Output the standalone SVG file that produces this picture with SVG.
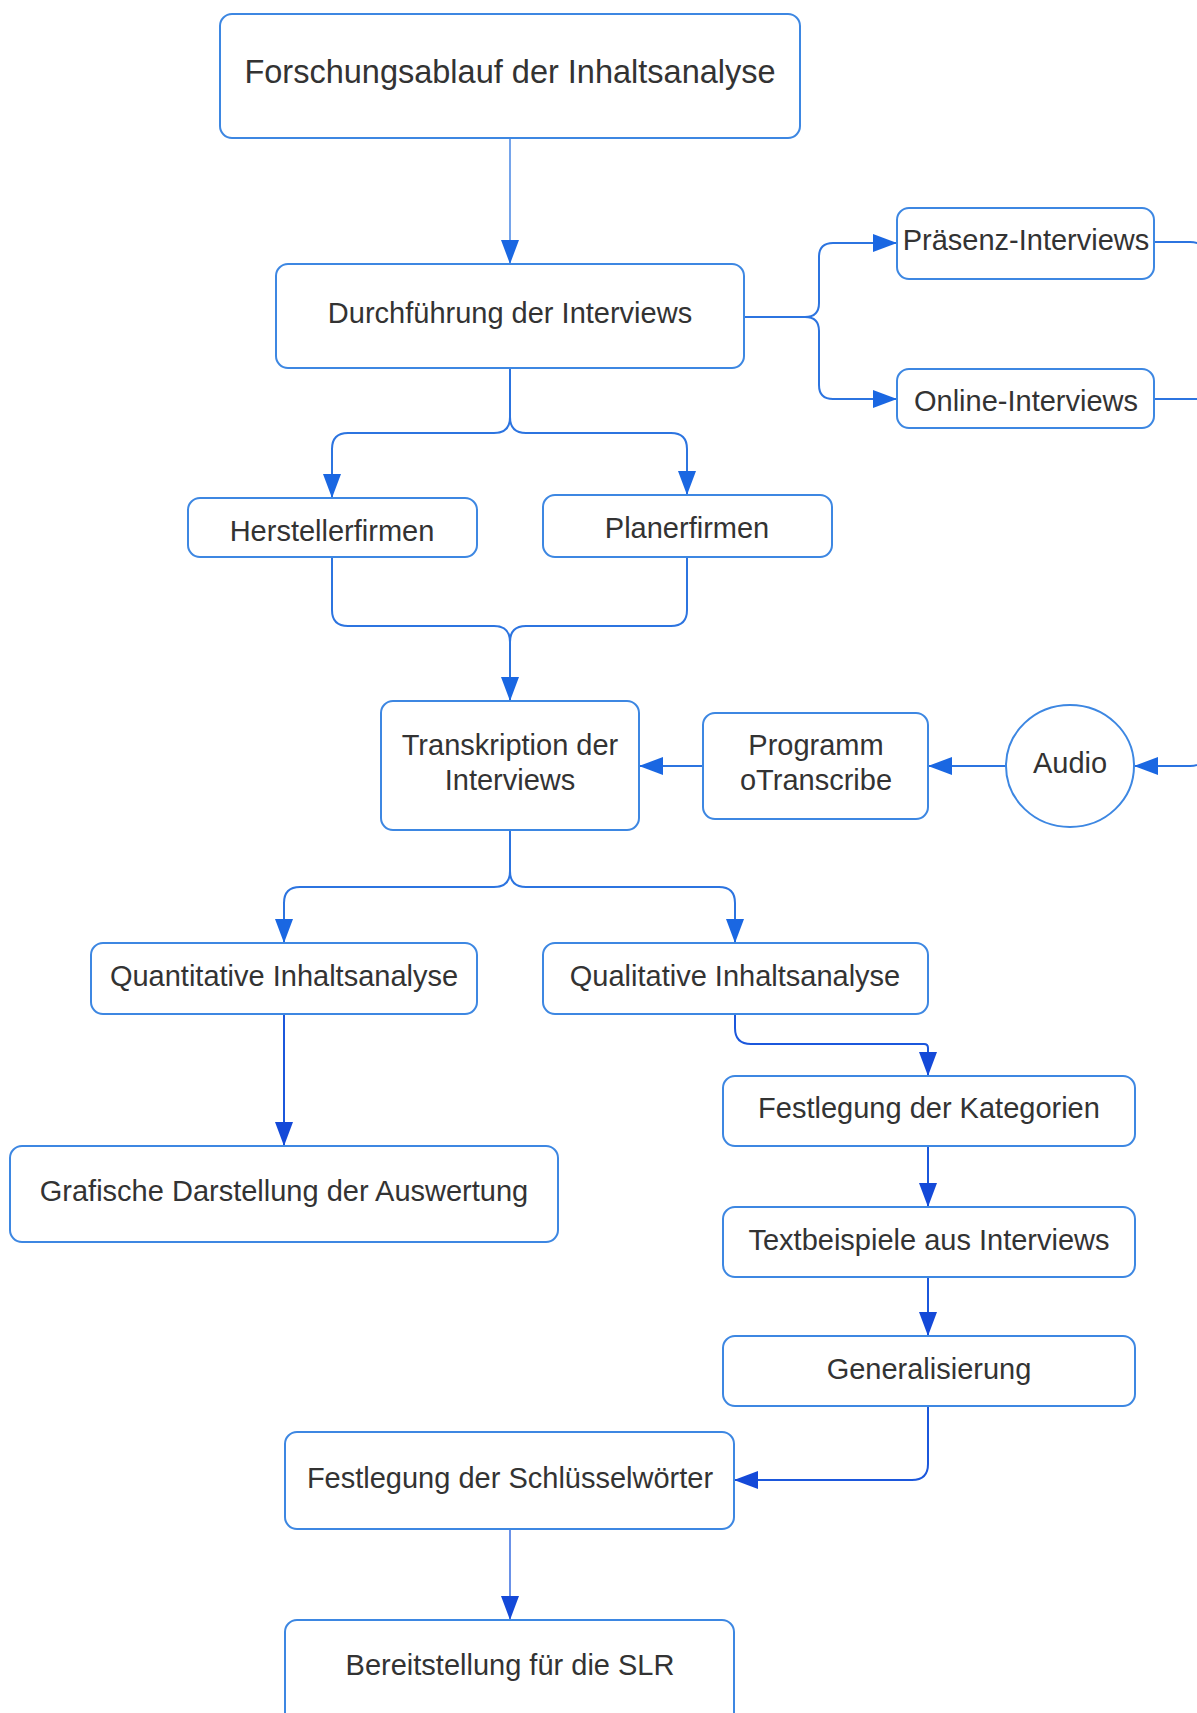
<svg xmlns="http://www.w3.org/2000/svg" width="1197" height="1713" viewBox="0 0 1197 1713">
  <style>
    .box { fill: #ffffff; stroke: #3d87e2; stroke-width: 2; }
    .lbl { font-family: "Liberation Sans", Arial, sans-serif; font-size: 29px; fill: #333333; text-anchor: middle; }
    .title { font-size: 32.5px; }
    .con path { fill: none; stroke: #2c74e0; stroke-width: 2; }
    .con path.dk { stroke: #1b57dc; }
  </style>
  <defs>
    <marker id="arr" viewBox="0 0 24 18" refX="23" refY="9" markerWidth="24" markerHeight="18" markerUnits="userSpaceOnUse" orient="auto">
      <path d="M0,0 L24,9 L0,18 Z" fill="#1a67e2"/>
    </marker>
    <marker id="arrDk" viewBox="0 0 24 18" refX="23" refY="9" markerWidth="24" markerHeight="18" markerUnits="userSpaceOnUse" orient="auto">
      <path d="M0,0 L24,9 L0,18 Z" fill="#1449d8"/>
    </marker>
  </defs>

  <rect width="1197" height="1713" fill="#ffffff"/>

  <!-- connectors -->
  <g id="connectors" class="con">
    <path d="M510,138 V263" style="stroke-width:1.3" marker-end="url(#arr)"/>
    <!-- interview forms -->
    <path d="M744,317 H805 Q819,317 819,303 V257 Q819,243 833,243 H896" marker-end="url(#arr)"/>
    <path d="M805,317 Q819,317 819,331 V385 Q819,399 833,399 H896" marker-end="url(#arr)"/>
    <!-- recordings to audio -->
    <path d="M1154,242 H1190 Q1206,242 1206,258 V750 Q1206,766 1190,766 H1135" marker-end="url(#arr)"/>
    <path d="M1154,399 H1206"/>
    <!-- company split -->
    <path d="M510,368 V417 Q510,433 494,433 H348 Q332,433 332,449 V497" marker-end="url(#arr)"/>
    <path d="M510,417 Q510,433 526,433 H671 Q687,433 687,449 V494" marker-end="url(#arr)"/>
    <!-- merge into transcription -->
    <path d="M332,557 V610 Q332,626 348,626 H494 Q510,626 510,642 V700" marker-end="url(#arr)"/>
    <path d="M687,557 V610 Q687,626 671,626 H526 Q510,626 510,642"/>
    <!-- transcription chain -->
    <path d="M703,766 H640" marker-end="url(#arr)"/>
    <path d="M1006,766 H929" marker-end="url(#arr)"/>
    <!-- analysis split -->
    <path d="M510,830 V871 Q510,887 494,887 H300 Q284,887 284,903 V942" marker-end="url(#arr)"/>
    <path d="M510,871 Q510,887 526,887 H719 Q735,887 735,903 V942" marker-end="url(#arr)"/>
    <!-- quantitative -->
    <path class="dk" d="M284,1014 V1145" marker-end="url(#arrDk)"/>
    <!-- qualitative -->
    <path class="dk" d="M735,1014 V1028 Q735,1044 751,1044 H924 Q928,1044 928,1048 V1075" marker-end="url(#arrDk)"/>
    <path class="dk" d="M928,1146 V1206" marker-end="url(#arrDk)"/>
    <path class="dk" d="M928,1277 V1335" marker-end="url(#arrDk)"/>
    <path class="dk" d="M928,1406 V1464 Q928,1480 912,1480 H735" marker-end="url(#arrDk)"/>
    <path class="dk" d="M510,1529 V1619" style="stroke-width:1.3" marker-end="url(#arrDk)"/>
  </g>

  <!-- nodes -->
  <g id="n-title">
    <rect class="box" x="220" y="14" width="580" height="124" rx="12"/>
    <text class="lbl title" x="510" y="83">Forschungsablauf der Inhaltsanalyse</text>
  </g>
  <g id="n-durchfuehrung">
    <rect class="box" x="276" y="264" width="468" height="104" rx="12"/>
    <text class="lbl" x="510" y="323">Durchführung der Interviews</text>
  </g>
  <g id="n-praesenz">
    <rect class="box" x="897" y="208" width="257" height="71" rx="12"/>
    <text class="lbl" x="1026" y="250">Präsenz-Interviews</text>
  </g>
  <g id="n-online">
    <rect class="box" x="897" y="369" width="257" height="59" rx="12"/>
    <text class="lbl" x="1026" y="411">Online-Interviews</text>
  </g>
  <g id="n-hersteller">
    <rect class="box" x="188" y="498" width="289" height="59" rx="12"/>
    <text class="lbl" x="332" y="541">Herstellerfirmen</text>
  </g>
  <g id="n-planer">
    <rect class="box" x="543" y="495" width="289" height="62" rx="12"/>
    <text class="lbl" x="687" y="538">Planerfirmen</text>
  </g>
  <g id="n-transkription">
    <rect class="box" x="381" y="701" width="258" height="129" rx="12"/>
    <text class="lbl" x="510" y="755">Transkription der</text>
    <text class="lbl" x="510" y="790">Interviews</text>
  </g>
  <g id="n-otranscribe">
    <rect class="box" x="703" y="713" width="225" height="106" rx="12"/>
    <text class="lbl" x="816" y="755">Programm</text>
    <text class="lbl" x="816" y="790">oTranscribe</text>
  </g>
  <g id="n-audio">
    <ellipse class="box" cx="1070" cy="766" rx="64" ry="61"/>
    <text class="lbl" x="1070" y="773">Audio</text>
  </g>
  <g id="n-quantitativ">
    <rect class="box" x="91" y="943" width="386" height="71" rx="12"/>
    <text class="lbl" x="284" y="986">Quantitative Inhaltsanalyse</text>
  </g>
  <g id="n-qualitativ">
    <rect class="box" x="543" y="943" width="385" height="71" rx="12"/>
    <text class="lbl" x="735" y="986">Qualitative Inhaltsanalyse</text>
  </g>
  <g id="n-grafik">
    <rect class="box" x="10" y="1146" width="548" height="96" rx="12"/>
    <text class="lbl" x="284" y="1201">Grafische Darstellung der Auswertung</text>
  </g>
  <g id="n-kategorien">
    <rect class="box" x="723" y="1076" width="412" height="70" rx="12"/>
    <text class="lbl" x="929" y="1118">Festlegung der Kategorien</text>
  </g>
  <g id="n-textbeispiele">
    <rect class="box" x="723" y="1207" width="412" height="70" rx="12"/>
    <text class="lbl" x="929" y="1250">Textbeispiele aus Interviews</text>
  </g>
  <g id="n-generalisierung">
    <rect class="box" x="723" y="1336" width="412" height="70" rx="12"/>
    <text class="lbl" x="929" y="1379">Generalisierung</text>
  </g>
  <g id="n-schluesselwoerter">
    <rect class="box" x="285" y="1432" width="449" height="97" rx="12"/>
    <text class="lbl" x="510" y="1488">Festlegung der Schlüsselwörter</text>
  </g>
  <g id="n-bereitstellung">
    <rect class="box" x="285" y="1620" width="449" height="110" rx="12"/>
    <text class="lbl" x="510" y="1675">Bereitstellung für die SLR</text>
  </g>
</svg>
